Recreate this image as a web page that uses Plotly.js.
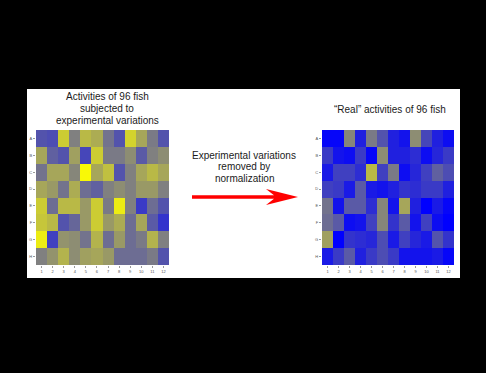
<!DOCTYPE html>
<html>
<head>
<meta charset="utf-8">
<script src="https://cdn.plot.ly/plotly-3.0.1.min.js"></script>
<style>html,body{margin:0;padding:0;background:#000;}#chart{width:486px;height:373px;}</style>
</head>
<body>
<div id="chart"></div>
<script>
// 96-well plate layout: rows A-H, columns 1-12
var rowLabels = ["A","B","C","D","E","F","G","H"];
var colLabels = [1,2,3,4,5,6,7,8,9,10,11,12];

// Activities with experimental variations (-1 = blue, 0 = gray, +1 = yellow)
var rawActivity = [
  [-0.35,-0.40, 0.60, 0.00, 0.45, 0.35,-0.10,-0.35, 0.65, 0.30,-0.05,-0.35],
  [ 0.30,-0.25,-0.35, 0.25,-0.45, 0.60,-0.05,-0.05, 0.10,-0.30, 0.00, 0.10],
  [-0.10, 0.30, 0.30, 0.05, 0.95, 0.30, 0.50,-0.35, 0.00, 0.30, 0.45, 0.30],
  [ 0.30, 0.20,-0.10, 0.35,-0.15,-0.25, 0.00, 0.10, 0.00, 0.20, 0.20, 0.00],
  [ 0.60,-0.15, 0.45, 0.45, 0.20, 0.60,-0.05, 0.85, 0.00,-0.55,-0.15,-0.35],
  [ 0.55, 0.45,-0.35,-0.20, 0.20, 0.60, 0.20, 0.35,-0.15, 0.30,-0.30,-0.60],
  [ 0.85,-0.50, 0.15, 0.10,-0.10, 0.40,-0.15, 0.20,-0.15,-0.05, 0.40, 0.00],
  [ 0.00, 0.15, 0.40, 0.10, 0.25, 0.30, 0.20,-0.15,-0.15,-0.15,-0.05,-0.35]
];

// "Real" activities after normalization
var realActivity = [
  [-0.95,-0.95, 0.05,-0.75,-0.05,-0.35,-0.75,-0.85, 0.10,-0.45,-0.75,-0.90],
  [-0.55,-0.85,-0.90,-0.55,-0.95, 0.10,-0.75,-0.75,-0.65,-0.90,-0.70,-0.55],
  [-0.80,-0.50,-0.50,-0.65, 0.45,-0.50,-0.05,-0.90,-0.70,-0.50,-0.25,-0.40],
  [-0.50,-0.55,-0.80,-0.30,-0.80,-0.85,-0.75,-0.60,-0.65,-0.55,-0.55,-0.75],
  [-0.10,-0.85,-0.30,-0.30,-0.65, 0.05,-0.85, 0.30,-0.75,-1.00,-0.80,-0.95],
  [-0.15,-0.30,-0.90,-0.85,-0.50, 0.05,-0.60,-0.30,-0.85,-0.50,-0.90,-1.00],
  [ 0.25,-1.00,-0.60,-0.65,-0.70,-0.40,-0.80,-0.50,-0.70,-0.80,-0.35,-0.60],
  [-0.80,-0.55,-0.30,-0.75,-0.55,-0.40,-0.55,-0.85,-0.85,-0.85,-0.80,-0.95]
];

var scale = [[0,'#0000ff'],[0.5,'#808080'],[1,'#ffff00']];
var W = 486, H = 373;
function px(x){return x/W;}
function py(y){return 1 - y/H;}

var traces = [
  {type:'heatmap', x:colLabels, y:rowLabels, z:rawActivity, colorscale:scale, zmin:-1, zmax:1,
   showscale:false, xaxis:'x', yaxis:'y', hoverinfo:'z'},
  {type:'heatmap', x:colLabels, y:rowLabels, z:realActivity, colorscale:scale, zmin:-1, zmax:1,
   showscale:false, xaxis:'x2', yaxis:'y2', hoverinfo:'z'}
];

function xax(dom, anchor){
  return {domain:dom, anchor:anchor, tickmode:'array', tickvals:colLabels, ticktext:colLabels.map(String),
    tickfont:{size:4, color:'#555', family:'Liberation Sans, Arial, sans-serif'}, ticks:'outside', ticklen:2,
    tickcolor:'#999', showgrid:false, zeroline:false, showline:false, fixedrange:true};
}
function yax(dom, anchor){
  return {domain:dom, anchor:anchor, autorange:'reversed', type:'category',
    tickfont:{size:4, color:'#555', family:'Liberation Sans, Arial, sans-serif'}, ticks:'outside', ticklen:2,
    tickcolor:'#999', showgrid:false, zeroline:false, showline:false, fixedrange:true};
}

var yDom = [py(265), py(130)];
var font = {family:'Liberation Sans, Arial, sans-serif', size:10, color:'#1a1a1a'};
function txt(t, x, y){
  return {text:t, x:px(x), y:py(y), xref:'paper', yref:'paper', showarrow:false,
    xanchor:'center', yanchor:'middle', font:font};
}

// arrow geometry
var ax0 = 192, ax1 = 298, ay = 197;
var arrowPath = 'M' + px(ax0) + ',' + py(ay-1.8) + ' L' + px(274) + ',' + py(ay-1.8) +
  ' L' + px(266) + ',' + py(ay-8) + ' L' + px(ax1) + ',' + py(ay) +
  ' L' + px(266) + ',' + py(ay+8) + ' L' + px(274) + ',' + py(ay+1.8) +
  ' L' + px(ax0) + ',' + py(ay+1.8) + ' Z';

var layout = {
  width:W, height:H,
  margin:{l:0, r:0, t:0, b:0, pad:0},
  paper_bgcolor:'#000000', plot_bgcolor:'#ffffff',
  showlegend:false,
  xaxis: xax([px(36), px(169)], 'y'),
  yaxis: yax(yDom, 'x'),
  xaxis2: xax([px(322), px(454)], 'y2'),
  yaxis2: yax(yDom, 'x2'),
  shapes:[
    {type:'rect', xref:'paper', yref:'paper', x0:px(27), x1:px(460), y0:py(278), y1:py(89),
     fillcolor:'#ffffff', line:{width:0}, layer:'below'},
    {type:'path', xref:'paper', yref:'paper', path:arrowPath, fillcolor:'#ff0000', line:{width:0}, layer:'above'}
  ],
  annotations:[
    txt('Activities of 96 fish', 107, 97),
    txt('subjected to', 107, 108.5),
    txt('experimental variations', 107, 120),
    txt('\u201CReal\u201D activities of 96 fish', 389.5, 110),
    txt('Experimental variations', 244, 155),
    txt('removed by', 244, 166.7),
    txt('normalization', 244, 178.3)
  ]
};

Plotly.newPlot('chart', traces, layout, {displayModeBar:false, staticPlot:true});
</script>
</body>
</html>
